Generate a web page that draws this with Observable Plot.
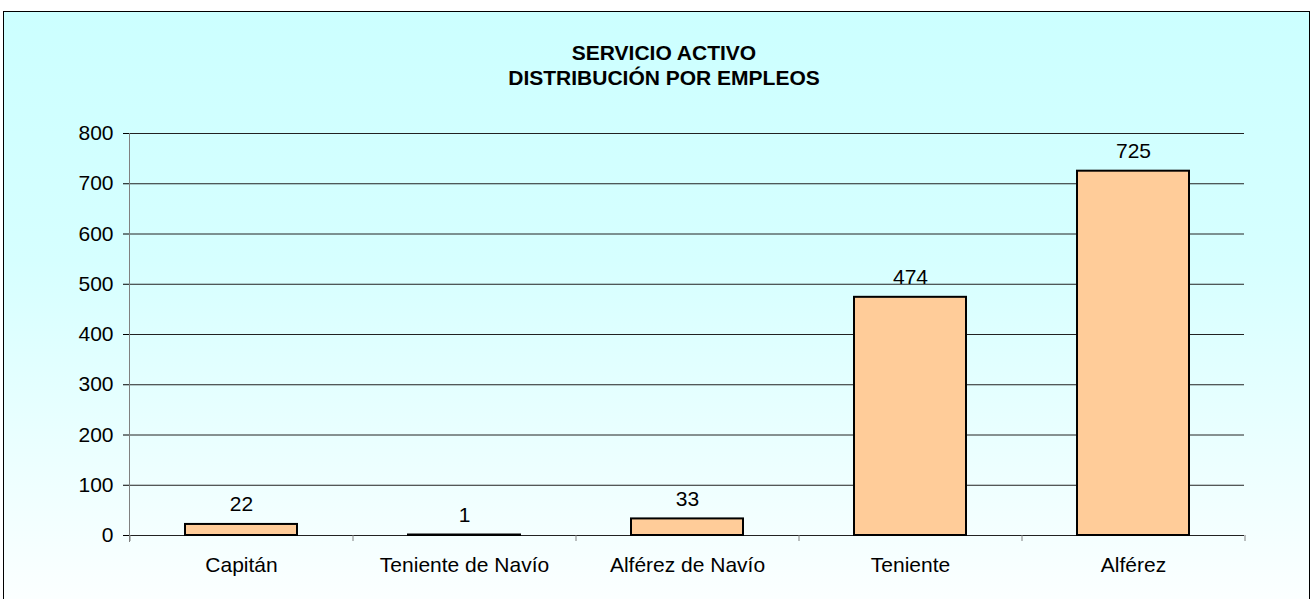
<!DOCTYPE html>
<html><head><meta charset="utf-8">
<script src="https://cdn.jsdelivr.net/npm/d3@7"></script>
<script src="https://cdn.jsdelivr.net/npm/@observablehq/plot@0.6"></script>
<style>
body{margin:0;background:#fff;font-family:"Liberation Sans",Arial,sans-serif;}
#wrap{position:relative;width:1314px;height:599px;overflow:hidden;}
#box{position:absolute;left:3px;top:11px;width:1305px;height:620px;border:1.5px solid #000;background:linear-gradient(#CCFFFF 0%, #D6FFFF 40%, #FFFFFF 100%);}
#title{position:absolute;left:414px;width:500px;top:40px;text-align:center;font-weight:bold;font-size:21px;line-height:25px;color:#000;}
#chart{position:absolute;left:0;top:0;}
</style></head>
<body>
<div id="wrap"><div id="box"></div><div id="title">SERVICIO ACTIVO<br>DISTRIBUCIÓN POR EMPLEOS</div><div id="chart"></div></div>
<script>
const categories = ["Capitán", "Teniente de Navío", "Alférez de Navío", "Teniente", "Alférez"];
const values = [22, 1, 33, 474, 725];
const yTicks = [0, 100, 200, 300, 400, 500, 600, 700, 800];

const data = categories.map((c, i) => ({cat: c, value: values[i]}));
const half = (1314 - 129 - 70) / 5 / 2;

const chart = Plot.plot({
  width: 1314, height: 599,
  marginLeft: 129, marginRight: 70, marginTop: 133, marginBottom: 64,
  style: {background: "transparent", fontFamily: "'Liberation Sans', Arial, sans-serif", fontSize: "21px", color: "#000"},
  x: {domain: categories, paddingInner: 0.5, paddingOuter: 0.25, label: null},
  y: {domain: [0, 800], label: null},
  marks: [
    Plot.ruleY(yTicks, {stroke: "#222", strokeWidth: 1}),
    Plot.frame({anchor: "left", stroke: "#808080", insetBottom: -6}),
    Plot.ruleX(categories, {x: d => d, y1: 0, y2: 0, dx: -half, insetBottom: -6, stroke: "#808080"}),
    Plot.ruleX(categories.slice(-1), {x: d => d, y1: 0, y2: 0, dx: half, insetBottom: -6, stroke: "#808080"}),
    Plot.axisY({ticks: yTicks, tickSize: 6, tickPadding: 10, stroke: "#000", fontSize: 21}),
    Plot.axisX({tickSize: 0, tickPadding: 22, fontSize: 21}),
    Plot.barY(data, {x: "cat", y: "value", fill: "#FFCC99", stroke: "#000", strokeWidth: 2}),
    Plot.text(data, {x: "cat", y: "value", text: d => String(d.value), dy: -20, fontSize: 21, fill: "#000", ariaLabel: "value-label"})
  ]
});
document.getElementById("chart").appendChild(chart);
// add cyan background boxes behind the value labels
chart.querySelectorAll('g[aria-label="value-label"] text').forEach(t => {
  const b = t.getBBox();
  const r = document.createElementNS("http://www.w3.org/2000/svg", "rect");
  r.setAttribute("x", b.x - 0.5);
  r.setAttribute("y", b.y - 2);
  r.setAttribute("width", b.width + 1);
  r.setAttribute("height", b.height + 4);
  r.setAttribute("fill", "#CCFFFF");
  r.setAttribute("stroke", "none");
  if (t.getAttribute("transform")) r.setAttribute("transform", t.getAttribute("transform"));
  t.parentNode.insertBefore(r, t);
});
</script>
</body></html>
